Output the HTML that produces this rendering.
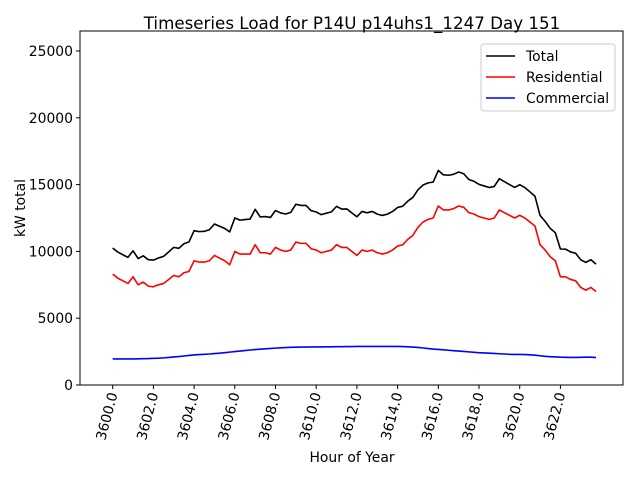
<!DOCTYPE html>
<html><head><meta charset="utf-8"><style>
body{margin:0;background:#fff;}
svg{display:block;font-family:"DejaVu Sans","Liberation Sans",sans-serif;}
</style></head><body>
<svg id="chart" width="640" height="480">
<rect x="0" y="0" width="640" height="480" fill="#fff"/>
<text x="352" y="29" text-anchor="middle" font-size="16.7">Timeseries Load for P14U p14uhs1_1247  Day 151</text>
<text transform="translate(25,208) rotate(-90)" text-anchor="middle" font-size="13.9">kW total</text>
<text x="352" y="462" text-anchor="middle" font-size="13.9">Hour of Year</text>
<g id="marks"></g>
<g id="axes"></g>
<rect x="80" y="31" width="543" height="354" fill="none" stroke="#000" stroke-width="1"/>
<g>
<rect x="481" y="44" width="134" height="67" rx="3" fill="#fff" stroke="#ccc"/>
<line x1="486" y1="56" x2="515" y2="56" stroke="#000" stroke-width="1.6"/>
<text x="526" y="61" font-size="13.9">Total</text>
<line x1="486" y1="77" x2="515" y2="77" stroke="#f00" stroke-width="1.6"/>
<text x="526" y="82" font-size="13.9">Residential</text>
<line x1="486" y1="98" x2="515" y2="98" stroke="#00f" stroke-width="1.6"/>
<text x="526" y="103" font-size="13.9">Commercial</text>
</g>
</svg>
<script>
const startHour = 3600;
const stepHours = 0.25;
const residential = [8300,8000,7800,7600,8100,7500,7700,7400,
7350,7500,7600,7900,8200,8100,8400,8500,
9300,9200,9200,9300,9700,9500,9300,9000,
10000,9800,9800,9800,10500,9900,9900,9800,
10300,10100,10000,10100,10700,10600,10600,10200,
10100,9900,10000,10100,10500,10300,10300,10000,
9700,10100,10000,10100,9900,9800,9900,10100,
10400,10500,10900,11200,11800,12200,12400,12500,
13400,13100,13100,13200,13400,13300,12900,12800,
12600,12500,12400,12500,13100,12900,12700,12500,
12700,12500,12200,11900,10500,10100,9600,9300,
8100,8100,7900,7800,7300,7100,7300,7000];
const commercial = [1950,1950,1950,1950,1950,1960,1970,1980,
2000,2010,2030,2060,2100,2130,2170,2210,
2250,2280,2300,2320,2350,2380,2420,2460,
2500,2540,2580,2620,2650,2680,2710,2740,
2760,2780,2800,2820,2830,2840,2840,2850,
2850,2850,2860,2860,2870,2870,2880,2880,
2890,2890,2890,2890,2890,2890,2890,2890,
2890,2880,2860,2840,2810,2770,2730,2690,
2660,2630,2600,2570,2540,2510,2480,2450,
2420,2400,2380,2360,2340,2320,2300,2290,
2290,2280,2260,2230,2190,2150,2120,2100,
2080,2070,2060,2060,2070,2080,2080,2050];
const total = residential.map((v,i)=>v+commercial[i]);
const yTicks = [0,5000,10000,15000,20000,25000];
const xTicks = [3600,3602,3604,3606,3608,3610,3612,3614,3616,3618,3620,3622];

const NS="http://www.w3.org/2000/svg";
function xs(h){return 112.7+(h-3600)*20.35;}
function ys(v){return 385-v*(66.8/5000);}
const marks=document.getElementById('marks');
const axes=document.getElementById('axes');
function line(arr,color,name){
  const p=document.createElementNS(NS,'polyline');
  p.setAttribute('points',arr.map((v,i)=>xs(startHour+i*stepHours).toFixed(2)+','+ys(v).toFixed(2)).join(' '));
  p.setAttribute('fill','none');p.setAttribute('stroke',color);p.setAttribute('stroke-width','1.6');
  p.setAttribute('stroke-linejoin','round');
  
  
  marks.appendChild(p);
}
line(commercial,'#00f','commercial-line');
line(residential,'#f00','residential-line');
line(total,'#000','total-line');
yTicks.forEach(t=>{
  const y=ys(t);
  const l=document.createElementNS(NS,'line');
  l.setAttribute('x1',76);l.setAttribute('x2',80);l.setAttribute('y1',y);l.setAttribute('y2',y);l.setAttribute('stroke','#000');
  
  
  axes.appendChild(l);
  const tx=document.createElementNS(NS,'text');
  tx.setAttribute('x',73);tx.setAttribute('y',y+5);tx.setAttribute('text-anchor','end');tx.setAttribute('font-size','13.9');
  tx.textContent=t;
  
  
  axes.appendChild(tx);
});
xTicks.forEach(t=>{
  const x=xs(t);
  const l=document.createElementNS(NS,'line');
  l.setAttribute('x1',x);l.setAttribute('x2',x);l.setAttribute('y1',385);l.setAttribute('y2',389);l.setAttribute('stroke','#000');
  
  
  axes.appendChild(l);
  const tx=document.createElementNS(NS,'text');
  tx.setAttribute('transform','translate('+(x+5)+',394) rotate(-75)');
  tx.setAttribute('text-anchor','end');tx.setAttribute('font-size','13.9');
  tx.textContent=t.toFixed(1);
  
  
  axes.appendChild(tx);
});
</script>
</body></html>
